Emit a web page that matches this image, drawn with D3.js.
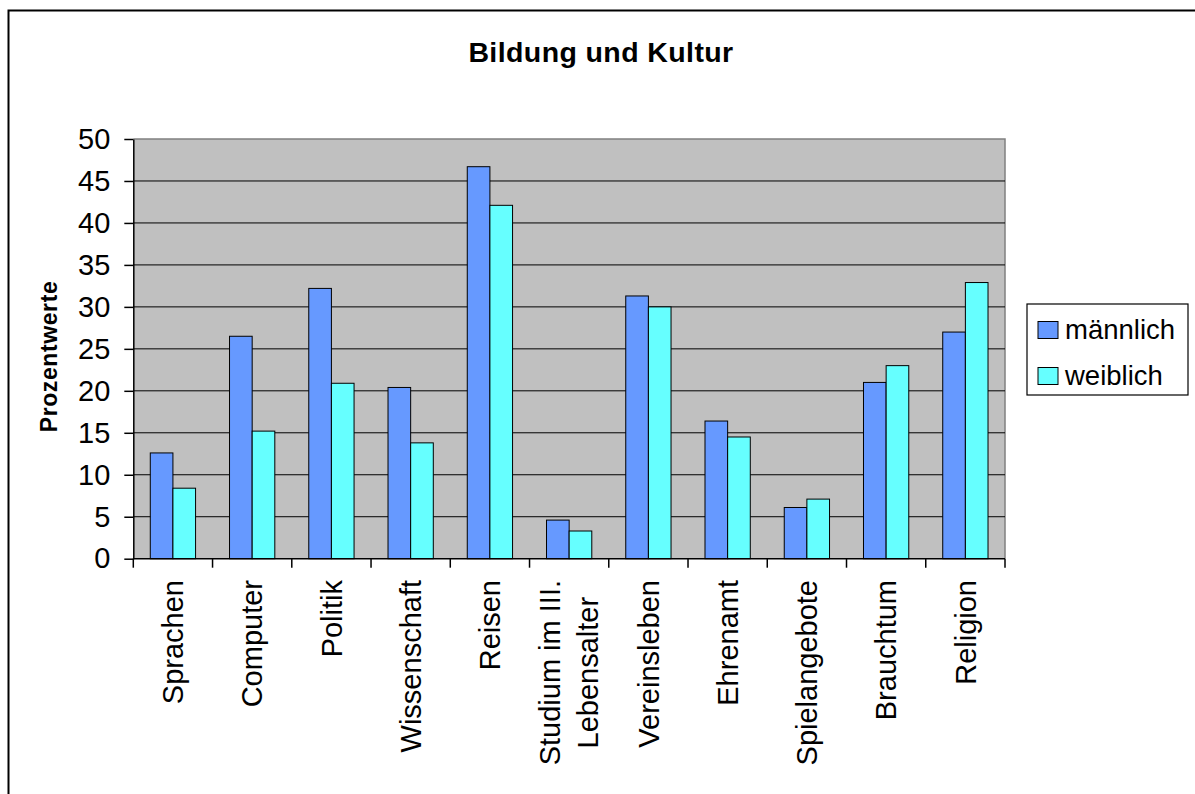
<!DOCTYPE html>
<html>
<head>
<meta charset="utf-8">
<script src="https://cdn.jsdelivr.net/npm/d3@7"></script>
<style>
  body { margin: 0; background: #fff; }
  text { font-family: Arial, "Liberation Sans", sans-serif; }
</style>
</head>
<body>
<div id="chart"></div>
<script>
// Data
var categories = ["Sprachen", "Computer", "Politik", "Wissenschaft", "Reisen",
    "Studium im III.\nLebensalter", "Vereinsleben", "Ehrenamt", "Spielangebote",
    "Brauchtum", "Religion"];
var seriesNames = ["männlich", "weiblich"];
var maennlich = [12.6, 26.5, 32.2, 20.4, 46.7, 4.6, 31.3, 16.4, 6.1, 21.0, 27.0];
var weiblich = [8.4, 15.2, 20.9, 13.8, 42.1, 3.3, 30.0, 14.5, 7.1, 23.0, 32.9];
var yTicks = [0, 5, 10, 15, 20, 25, 30, 35, 40, 45, 50];
var colors = ["#6699FF", "#66FFFF"];

// SVG area
var svgWidth = 1195;
var svgHeight = 794;

var plot = { left: 133.3, right: 1005, top: 139, bottom: 558.7 };

var svg = d3.select("#chart")
    .append("svg")
    .attr("width", svgWidth)
    .attr("height", svgHeight);

// outer chart border (only left and top visible)
svg.append("path")
    .attr("d", "M8.5,800 V10.5 H1200")
    .attr("fill", "none")
    .attr("stroke", "#000")
    .attr("stroke-width", 2);

// Title
svg.append("text")
    .attr("x", 601)
    .attr("y", 62)
    .attr("text-anchor", "middle")
    .attr("font-size", "28.5px")
    .attr("font-weight", "bold")
    .attr("letter-spacing", "0.4px")
    .text("Bildung und Kultur");

// Scales
var xScale = d3.scaleBand()
    .domain(categories)
    .range([plot.left, plot.right])
    .padding(0);

var xSub = d3.scaleBand()
    .domain(seriesNames)
    .range([0, xScale.bandwidth()])
    .paddingInner(0)
    .paddingOuter(0.75);

var yScale = d3.scaleLinear()
    .domain([0, 50])
    .range([plot.bottom, plot.top]);

// Plot background
svg.append("rect")
    .attr("x", plot.left)
    .attr("y", plot.top)
    .attr("width", plot.right - plot.left)
    .attr("height", plot.bottom - plot.top)
    .attr("fill", "#C0C0C0");

// top and right border of plot area (gray)
svg.append("path")
    .attr("d", "M" + plot.left + "," + plot.top + " H" + plot.right + " V" + plot.bottom)
    .attr("fill", "none")
    .attr("stroke", "#808080")
    .attr("stroke-width", 1.5);

// Gridlines
svg.append("g")
    .selectAll("line")
    .data(yTicks.filter(d => d > 0 && d < 50))
    .enter()
    .append("line")
    .attr("x1", plot.left)
    .attr("x2", plot.right)
    .attr("y1", d => yScale(d))
    .attr("y2", d => yScale(d))
    .attr("stroke", "#000")
    .attr("stroke-width", 1);

// Bars
var rows = categories.map(function (c, i) {
    return { cat: c, values: [maennlich[i], weiblich[i]] };
});

var groups = svg.append("g")
    .selectAll("g")
    .data(rows)
    .enter()
    .append("g")
    .attr("transform", d => "translate(" + xScale(d.cat) + ",0)");

groups.selectAll("rect")
    .data(d => d.values.map((v, j) => ({ name: seriesNames[j], value: v, j: j })))
    .enter()
    .append("rect")
    .attr("x", d => xSub(d.name))
    .attr("y", d => yScale(d.value))
    .attr("width", xSub.bandwidth())
    .attr("height", d => plot.bottom - yScale(d.value))
    .attr("fill", d => colors[d.j])
    .attr("stroke", "#000")
    .attr("stroke-width", 1);

// Y axis
var leftAxis = d3.axisLeft(yScale)
    .tickValues(yTicks)
    .tickSize(9)
    .tickPadding(14)
    .tickSizeOuter(0);

var yAxisG = svg.append("g")
    .attr("transform", "translate(" + plot.left + ",0)")
    .call(leftAxis);

yAxisG.select(".domain").attr("stroke", "#000").attr("stroke-width", 1.5);
yAxisG.selectAll(".tick line").attr("stroke", "#000").attr("stroke-width", 1.5);
yAxisG.selectAll(".tick text")
    .attr("font-size", "29px")
    .attr("fill", "#000")
    .style("font-family", "Arial, 'Liberation Sans', sans-serif");

// X axis line and ticks at category boundaries
var boundaries = categories.map(c => xScale(c)).concat([plot.right]);

svg.append("line")
    .attr("x1", plot.left)
    .attr("x2", plot.right)
    .attr("y1", plot.bottom)
    .attr("y2", plot.bottom)
    .attr("stroke", "#000")
    .attr("stroke-width", 1.5);

svg.append("g")
    .selectAll("line")
    .data(boundaries)
    .enter()
    .append("line")
    .attr("x1", d => d)
    .attr("x2", d => d)
    .attr("y1", plot.bottom)
    .attr("y2", plot.bottom + 9)
    .attr("stroke", "#000")
    .attr("stroke-width", 1.5);

// X labels (rotated)
var labelTop = 580;
var lineGap = 38;

var labels = svg.append("g")
    .selectAll("text")
    .data(categories)
    .enter()
    .append("text")
    .attr("font-size", "29px")
    .attr("text-anchor", "middle")
    .attr("fill", "#000");

labels.each(function (d) {
    var t = d3.select(this);
    var lines = d.split("\n");
    lines.forEach(function (ln, i) {
        t.append("tspan")
            .attr("x", 0)
            .attr("y", (i - (lines.length - 1) / 2) * lineGap)
            .attr("dy", "0.35em")
            .text(ln);
    });
    var maxLen = 0;
    t.selectAll("tspan").each(function () {
        maxLen = Math.max(maxLen, this.getComputedTextLength());
    });
    var cx = xScale(d) + xScale.bandwidth() / 2;
    t.attr("transform", "translate(" + cx + "," + (labelTop + maxLen / 2) + ") rotate(-90)");
});

// Y axis title
svg.append("text")
    .attr("transform", "translate(56.5,356.5) rotate(-90)")
    .attr("text-anchor", "middle")
    .attr("font-size", "23px")
    .attr("font-weight", "bold")
    .attr("letter-spacing", "0.6px")
    .text("Prozentwerte");

// Legend
var legend = svg.append("g")
    .attr("transform", "translate(1027,304)");

legend.append("rect")
    .attr("width", 161)
    .attr("height", 91)
    .attr("fill", "#fff")
    .attr("stroke", "#000")
    .attr("stroke-width", 1.2);

var legendItems = legend.selectAll("g")
    .data(seriesNames)
    .enter()
    .append("g")
    .attr("transform", (d, i) => "translate(11," + (17.5 + i * 46) + ")");

legendItems.append("rect")
    .attr("width", 20)
    .attr("height", 17)
    .attr("fill", (d, i) => colors[i])
    .attr("stroke", "#000")
    .attr("stroke-width", 1);

legendItems.append("text")
    .attr("x", 27)
    .attr("y", 17)
    .attr("font-size", "27.5px")
    .attr("fill", "#000")
    .text(d => d);
</script>
</body>
</html>
